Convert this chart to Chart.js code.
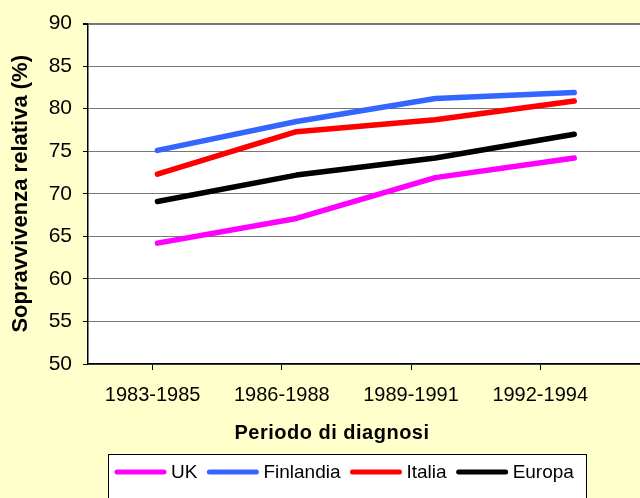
<!DOCTYPE html>
<html>
<head>
<meta charset="utf-8">
<script src="https://cdn.jsdelivr.net/npm/chart.js@4"></script>
<style>
  html, body { margin: 0; padding: 0; overflow: hidden; background: #ffffcc; }
  #wrap { width: 640px; height: 498px; overflow: hidden; }
</style>
</head>
<body>
<div id="wrap"><canvas id="chart" width="734" height="498"></canvas></div>
<script>
const categories = ["1983-1985", "1986-1988", "1989-1991", "1992-1994"];
const seriesNames = ["UK", "Finlandia", "Italia", "Europa"];
const ukValues = [64.2, 67.1, 71.9, 74.2];
const finlandiaValues = [75.1, 78.5, 81.2, 81.9];
const italiaValues = [72.3, 77.3, 78.7, 80.9];
const europaValues = [69.1, 72.2, 74.2, 77.0];
const yTicks = [50, 55, 60, 65, 70, 75, 80, 85, 90];

const seriesColors = ["#ff00ff", "#3366ff", "#ff0000", "#000000"];
const FONT = "'Liberation Sans', Arial, sans-serif";

const allValues = [ukValues, finlandiaValues, italiaValues, europaValues];

// background, white plot area, bottom title and boxed legend
const decorPlugin = {
  id: "decor",
  beforeDraw(chart) {
    const { ctx, chartArea } = chart;
    ctx.save();
    ctx.fillStyle = "#ffffcc";
    ctx.fillRect(0, 0, chart.width, chart.height);
    ctx.fillStyle = "#ffffff";
    ctx.fillRect(chartArea.left, chartArea.top, chartArea.right - chartArea.left, chartArea.bottom - chartArea.top);
    ctx.restore();
  },
  afterDraw(chart) {
    const ctx = chart.ctx;
    ctx.save();
    // x axis title
    ctx.fillStyle = "#000";
    ctx.font = "bold 20px " + FONT;
    ctx.textAlign = "center";
    ctx.textBaseline = "middle";
    if ("letterSpacing" in ctx) ctx.letterSpacing = "0.5px";
    ctx.fillText("Periodo di diagnosi", 332, 433);
    if ("letterSpacing" in ctx) ctx.letterSpacing = "0px";

    // legend box
    ctx.fillStyle = "#ffffff";
    ctx.fillRect(108, 454, 478, 60);
    ctx.strokeStyle = "#000";
    ctx.lineWidth = 1;
    ctx.strokeRect(108.5, 454.5, 478, 60);

    ctx.font = "19px " + FONT;
    ctx.textAlign = "left";
    let x = 114;
    const y = 472;
    chart.data.datasets.forEach(ds => {
      ctx.strokeStyle = ds.borderColor;
      ctx.lineWidth = 5;
      ctx.lineCap = "round";
      ctx.beginPath();
      ctx.moveTo(x + 3, y);
      ctx.lineTo(x + 50, y);
      ctx.stroke();
      ctx.fillStyle = "#000";
      ctx.fillText(ds.label, x + 57, y + 1);
      x += 57 + ctx.measureText(ds.label).width + 9;
    });
    ctx.restore();
  }
};

new Chart(document.getElementById("chart"), {
  type: "line",
  data: {
    labels: categories.concat([""]),
    datasets: seriesNames.map((name, i) => ({
      label: name,
      data: allValues[i].map((v, j) => ({ x: j, y: v })),
      xAxisID: "xd",
      borderColor: seriesColors[i],
      backgroundColor: seriesColors[i],
      borderWidth: 5.5,
      borderCapStyle: "round",
      borderJoinStyle: "round",
      pointRadius: 0,
      tension: 0,
      fill: false
    }))
  },
  options: {
    responsive: false,
    animation: false,
    devicePixelRatio: 1,
    layout: { padding: { top: 20, left: 0, right: 0, bottom: 0 } },
    plugins: {
      legend: { display: false },
      tooltip: { enabled: false }
    },
    scales: {
      x: {
        type: "category",
        offset: true,
        afterFit: s => { s.height = 134; },
        grid: {
          drawOnChartArea: false,
          tickLength: 6,
          tickColor: c => (c.index <= 4 ? "#000" : "rgba(0,0,0,0)"),
          tickWidth: 1
        },
        border: { color: "#000", width: 1.5 },
        ticks: {
          color: "#000",
          font: { family: FONT, size: 20 },
          padding: 13,
          maxRotation: 0,
          autoSkip: false
        }
      },
      xd: {
        type: "linear",
        display: false,
        min: -0.5,
        max: 4.15
      },
      y: {
        min: yTicks[0],
        max: yTicks[yTicks.length - 1],
        afterFit: s => { s.width = 88; },
        afterBuildTicks: s => { s.ticks = yTicks.map(v => ({ value: v })); },
        grid: {
          color: "#777",
          lineWidth: c => (c.tick && c.tick.value === 90 ? 2 : 1),
          tickLength: 5,
          tickColor: "#000"
        },
        border: { color: "#000", width: 1.5 },
        ticks: {
          color: "#000",
          font: { family: FONT, size: 21 },
          padding: 11
        },
        title: {
          display: true,
          text: "Sopravvivenza relativa (%)",
          color: "#000",
          font: { family: FONT, size: 22, weight: "bold" },
          padding: { top: 8, bottom: 0 }
        }
      }
    }
  },
  plugins: [decorPlugin]
});
</script>
</body>
</html>
